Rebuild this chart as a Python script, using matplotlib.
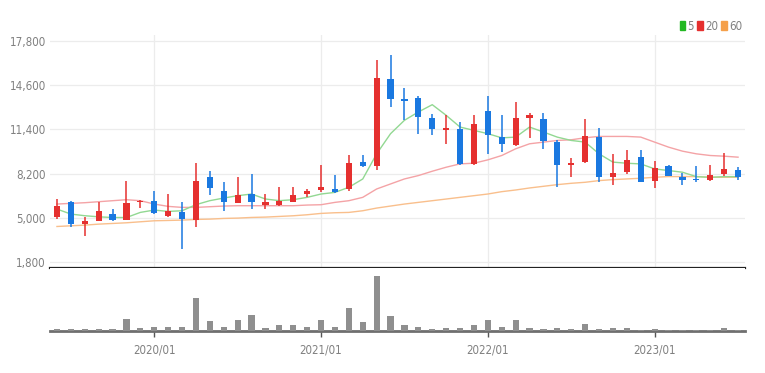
import pandas as pd
import matplotlib.pyplot as plt
from matplotlib import font_manager as fm
from matplotlib.patches import Patch

# ---- DATA (monthly candles, 2019/06 .. 2023/07) ----
months = [p.strftime("%Y/%m") for p in pd.period_range("2019-06", periods=50, freq="M")]

opens = [5025, 6164, 4541, 4783, 5268, 4832, 6116, 6189, 5098, 5438,
         4832, 7934, 6965, 6092, 6722, 5946, 5946, 6164, 6722, 7013,
         7086, 7086, 9025, 8734, 15036, 13606, 13703, 12249, 11328, 11449,
         8904, 12710, 10843, 10237, 12249, 12176, 10479, 8855, 9025, 10843,
         7934, 8298, 9389, 7692, 8783, 7934, 7837, 7740, 8177, 8467]
closes = [5825, 4541, 4783, 5462, 4856, 6068, 6237, 5340, 5462, 4904,
          7692, 7134, 6116, 6674, 6116, 6116, 6237, 6674, 6965, 7207,
          6843, 8977, 8783, 15158, 13582, 13461, 12297, 11449, 11522, 8904,
          11812, 10964, 10358, 12249, 12419, 10552, 8831, 8952, 10891, 7934,
          8249, 9219, 7571, 8589, 8056, 7740, 7740, 8104, 8540, 7983]
highs = [6358, 6237, 5025, 6116, 5632, 7692, 6286, 6916, 6722, 6116,
         8952, 8419, 7571, 7934, 8177, 6722, 7207, 7207, 7086, 8831,
         8104, 9558, 9558, 16418, 16782, 14406, 13800, 12540, 12419, 11934,
         12419, 13800, 12419, 13388, 12613, 12588, 10600, 9316, 12176, 11498,
         9631, 9922, 9922, 9146, 8831, 8225, 8783, 8831, 9679, 8661]
lows = [4904, 4298, 3692, 4734, 4734, 4832, 5680, 5268, 5025, 2723,
        4298, 6649, 5510, 6044, 5632, 5632, 5874, 6116, 6480, 6843,
        6770, 6916, 8661, 8467, 13025, 12104, 11037, 10964, 10358, 8855,
        8855, 9583, 9752, 10188, 10794, 9995, 7256, 7983, 8977, 7571,
        7401, 8177, 7571, 7159, 8007, 7377, 7619, 7692, 8056, 7740]

ma5 = [5630, 5270, 5150, 5070, 5020, 5020, 5390, 5560, 5460, 5510,
       5950, 6240, 6430, 6600, 6720, 6360, 6240, 6310, 6480, 6720,
       6840, 7210, 7810, 9630, 11090, 12060, 12660, 13190, 12420, 11570,
       11330, 11090, 10790, 10840, 11570, 11210, 10840, 10600, 10480, 9630,
       9030, 8950, 8900, 8540, 8420, 8300, 7980, 7930, 7980, 7980]
ma20 = [5995, 6044, 6092, 6164, 6237, 6310, 6237, 5995, 5826, 5753,
        5753, 5802, 5850, 5874, 5874, 5874, 5874, 5874, 5922, 5946,
        6116, 6237, 6480, 7086, 7450, 7813, 8056, 8371, 8661, 8904,
        8952, 9195, 9510, 9995, 10358, 10479, 10600, 10649, 10794, 10891,
        10891, 10891, 10843, 10479, 10116, 9825, 9631, 9510, 9461, 9389]
ma60 = [4370, 4419, 4468, 4541, 4589, 4638, 4711, 4783, 4807, 4832,
        4880, 4904, 4953, 4977, 5025, 5050, 5098, 5146, 5219, 5317,
        5365, 5389, 5510, 5704, 5850, 5995, 6116, 6237, 6358, 6480,
        6601, 6722, 6892, 7013, 7159, 7280, 7401, 7498, 7571, 7692,
        7765, 7813, 7862, 7934, 7983, 7983, 7983, 7934, 7934, 7934]

volume = [7, 7, 7, 7, 7, 37, 8, 12, 13, 13,
          98, 29, 13, 32, 49, 8, 19, 17, 12, 34,
          12, 70, 27, 165, 44, 17, 12, 7, 8, 8,
          17, 34, 12, 32, 8, 7, 8, 7, 22, 7,
          8, 8, 3, 5, 3, 3, 3, 3, 8, 3]   # x1000 shares

yticks = [1800, 5000, 8200, 11400, 14600, 17800]
xtick_labels = ["2020/01", "2021/01", "2022/01", "2023/01"]
# -----------------------------------------------------

UP, DOWN = "#e5302f", "#1a78e0"
TXT = "#808080"

# pick a narrow font if one is around
fonts = fm.fontManager.ttflist
names = {f.name for f in fonts}
if "Liberation Sans Narrow" in names:
    plt.rcParams["font.family"] = ["Liberation Sans Narrow", "DejaVu Sans"]
elif any(f.name == "DejaVu Sans" and f.stretch == "condensed" for f in fonts):
    plt.rcParams["font.family"] = ["DejaVu Sans"]
    plt.rcParams["font.stretch"] = "condensed"
else:
    plt.rcParams["font.family"] = ["DejaVu Sans"]
narrow = plt.rcParams["font.family"][0] != "DejaVu Sans" or plt.rcParams["font.stretch"] == "condensed"
FS = 8.3 if narrow else 7.2

x = list(range(len(months)))
xt = [months.index(m) for m in xtick_labels]
cols = [UP if c >= o else DOWN for o, c in zip(opens, closes)]

fig = plt.figure(figsize=(7.65, 3.73), dpi=100)
ax = fig.add_axes([50 / 765, 1 - 268 / 373, 695 / 765, 233 / 373])
axv = fig.add_axes([50 / 765, 1 - 331 / 373, 695 / 765, 63 / 373], sharex=ax)

# moving averages
ax.plot(x, ma60, color="#f9bf8c", lw=1.0, zorder=2)
ax.plot(x, ma20, color="#f4a3a6", lw=1.0, zorder=2)
ax.plot(x, ma5, color="#92d892", lw=1.0, zorder=2)

# candles
ax.vlines(x, lows, highs, colors=cols, lw=1.1, zorder=3)
ax.bar(x, [max(abs(c - o), 60) for o, c in zip(opens, closes)],
       bottom=[min(o, c) for o, c in zip(opens, closes)],
       width=0.45, color=cols, zorder=4)

ax.set_xlim(-0.5, 49.5)
ax.set_ylim(1364, 18236)
ax.set_yticks(yticks)
ax.set_yticklabels([f"{v:,}" for v in yticks])
ax.set_xticks(xt)
ax.tick_params(axis="x", length=0, labelbottom=False)
ax.tick_params(axis="y", length=0, labelsize=FS, colors=TXT, pad=3)
ax.grid(True, color="#ececec", lw=0.9)
ax.set_axisbelow(True)
for s in ["top", "right", "left"]:
    ax.spines[s].set_visible(False)
ax.spines["bottom"].set_color("#222222")
ax.spines["bottom"].set_linewidth(1.6)

handles = [Patch(color="#22b822"), Patch(color="#e5302f"), Patch(color="#f5a04a")]
fig.legend(handles, ["5", "20", "60"], ncol=3, loc="center right",
           bbox_to_anchor=(742 / 765, 1 - 26 / 373), frameon=False, fontsize=FS,
           handlelength=0.45, handleheight=0.9, handletextpad=0.2,
           columnspacing=0.3, borderaxespad=0, borderpad=0, labelcolor=TXT)

# volume
axv.bar(x, volume, width=0.45, color="#8f8f8f", zorder=3)
axv.set_ylim(0, 189)
axv.set_yticks([])
axv.set_xticks(xt)
axv.set_xticklabels(xtick_labels)
axv.tick_params(axis="x", length=4, width=1, colors="#555555", labelcolor=TXT,
                labelsize=FS, pad=5)
for s in ["top", "right", "left"]:
    axv.spines[s].set_visible(False)
axv.spines["bottom"].set_color("#6f6f6f")
axv.spines["bottom"].set_linewidth(2)

fig.savefig("out.png", dpi=100)
